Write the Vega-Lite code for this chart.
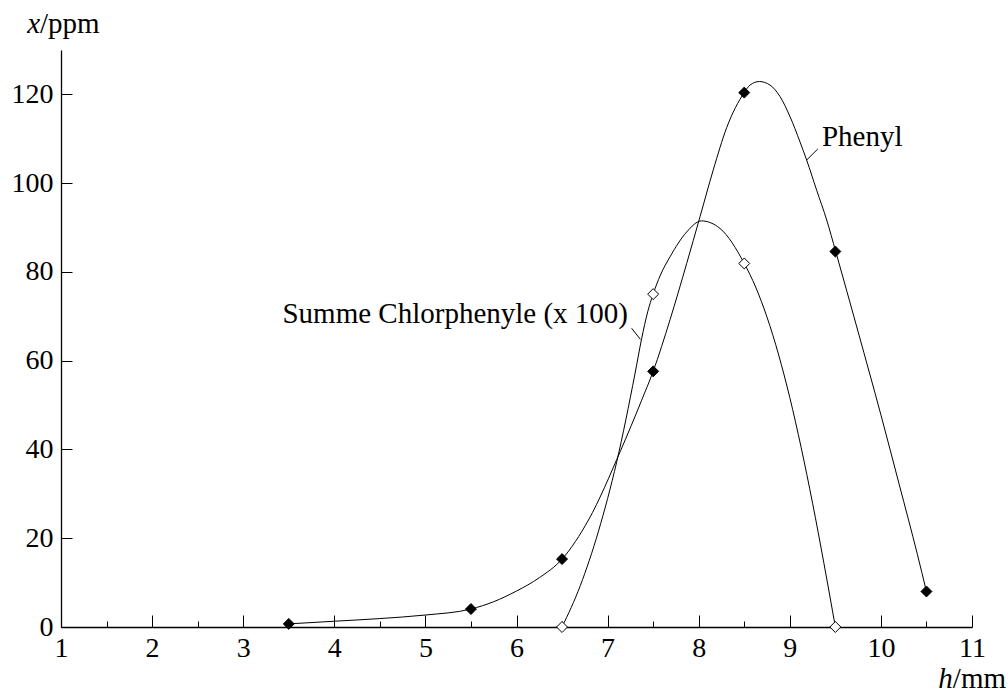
{
  "$schema": "https://vega.github.io/schema/vega-lite/v6.json",
  "width": 911,
  "height": 577,
  "autosize": {"type": "none"},
  "padding": {"left": 61, "top": 50, "right": 36, "bottom": 66},
  "background": "white",
  "config": {
    "view": {"stroke": null},
    "font": "Liberation Serif",
    "axis": {
      "grid": false,
      "domainColor": "black",
      "domainWidth": 1.3,
      "tickColor": "black",
      "tickWidth": 1,
      "labelColor": "black",
      "labelFont": "Liberation Serif",
      "labelFontSize": 28,
      "labelFlush": false,
      "labelOverlap": false,
      "title": null
    }
  },
  "datasets": {
    "curve": [
      {"series": "Phenyl", "h": 3.5, "ppm": 0.7},
      {"series": "Phenyl", "h": 4.0, "ppm": 1.3},
      {"series": "Phenyl", "h": 4.5, "ppm": 1.9},
      {"series": "Phenyl", "h": 5.0, "ppm": 2.7},
      {"series": "Phenyl", "h": 5.5, "ppm": 4.05},
      {"series": "Phenyl", "h": 5.75, "ppm": 5.7},
      {"series": "Phenyl", "h": 6.0, "ppm": 8.1},
      {"series": "Phenyl", "h": 6.25, "ppm": 11.1},
      {"series": "Phenyl", "h": 6.5, "ppm": 15.3},
      {"series": "Phenyl", "h": 6.79, "ppm": 24.1},
      {"series": "Phenyl", "h": 7.144, "ppm": 39.8},
      {"series": "Phenyl", "h": 7.374, "ppm": 51.1},
      {"series": "Phenyl", "h": 7.5, "ppm": 57.6},
      {"series": "Phenyl", "h": 7.685, "ppm": 69.2},
      {"series": "Phenyl", "h": 7.868, "ppm": 81.9},
      {"series": "Phenyl", "h": 8.014, "ppm": 92.4},
      {"series": "Phenyl", "h": 8.16, "ppm": 103.0},
      {"series": "Phenyl", "h": 8.307, "ppm": 112.5},
      {"series": "Phenyl", "h": 8.5, "ppm": 120.4},
      {"series": "Phenyl", "h": 8.563, "ppm": 122.1},
      {"series": "Phenyl", "h": 8.666, "ppm": 122.9},
      {"series": "Phenyl", "h": 8.783, "ppm": 122.1},
      {"series": "Phenyl", "h": 8.893, "ppm": 119.5},
      {"series": "Phenyl", "h": 9.002, "ppm": 115.0},
      {"series": "Phenyl", "h": 9.112, "ppm": 109.3},
      {"series": "Phenyl", "h": 9.185, "ppm": 105.2},
      {"series": "Phenyl", "h": 9.295, "ppm": 98.4},
      {"series": "Phenyl", "h": 9.405, "ppm": 91.7},
      {"series": "Phenyl", "h": 9.504, "ppm": 84.6},
      {"series": "Phenyl", "h": 9.75, "ppm": 66.5},
      {"series": "Phenyl", "h": 10.0, "ppm": 47.8},
      {"series": "Phenyl", "h": 10.2, "ppm": 32.2},
      {"series": "Phenyl", "h": 10.4, "ppm": 16.4},
      {"series": "Phenyl", "h": 10.5, "ppm": 8.0},
      {"series": "Chlor", "h": 6.5, "ppm": 0},
      {"series": "Chlor", "h": 6.7, "ppm": 9.3},
      {"series": "Chlor", "h": 6.9, "ppm": 21.6},
      {"series": "Chlor", "h": 7.1, "ppm": 37.2},
      {"series": "Chlor", "h": 7.3, "ppm": 57.0},
      {"series": "Chlor", "h": 7.374, "ppm": 65.0},
      {"series": "Chlor", "h": 7.44, "ppm": 71.0},
      {"series": "Chlor", "h": 7.5, "ppm": 75.0},
      {"series": "Chlor", "h": 7.58, "ppm": 79.3},
      {"series": "Chlor", "h": 7.685, "ppm": 83.4},
      {"series": "Chlor", "h": 7.868, "ppm": 89.0},
      {"series": "Chlor", "h": 8.03, "ppm": 91.5},
      {"series": "Chlor", "h": 8.234, "ppm": 89.8},
      {"series": "Chlor", "h": 8.5, "ppm": 81.9},
      {"series": "Chlor", "h": 8.625, "ppm": 76.6},
      {"series": "Chlor", "h": 8.75, "ppm": 69.8},
      {"series": "Chlor", "h": 8.875, "ppm": 61.5},
      {"series": "Chlor", "h": 9.0, "ppm": 51.7},
      {"series": "Chlor", "h": 9.125, "ppm": 40.4},
      {"series": "Chlor", "h": 9.25, "ppm": 27.9},
      {"series": "Chlor", "h": 9.375, "ppm": 14.3},
      {"series": "Chlor", "h": 9.5, "ppm": 0}
    ],
    "points": [
      {"series": "Phenyl", "h": 3.5, "ppm": 0.7},
      {"series": "Phenyl", "h": 5.5, "ppm": 4.05},
      {"series": "Phenyl", "h": 6.5, "ppm": 15.3},
      {"series": "Phenyl", "h": 7.5, "ppm": 57.6},
      {"series": "Phenyl", "h": 8.5, "ppm": 120.4},
      {"series": "Phenyl", "h": 9.5, "ppm": 84.6},
      {"series": "Phenyl", "h": 10.5, "ppm": 8.0},
      {"series": "Chlor", "h": 6.5, "ppm": 0},
      {"series": "Chlor", "h": 7.5, "ppm": 75.0},
      {"series": "Chlor", "h": 8.5, "ppm": 81.9},
      {"series": "Chlor", "h": 9.5, "ppm": 0}
    ]
  },
  "layer": [
    {
      "data": {"name": "curve"},
      "mark": {"type": "line", "interpolate": "monotone", "color": "black", "strokeWidth": 1},
      "encoding": {
        "x": {
          "field": "h", "type": "quantitative",
          "scale": {"domain": [1, 11], "nice": false, "zero": false},
          "axis": {
            "values": [1, 1.5, 2, 2.5, 3, 3.5, 4, 4.5, 5, 5.5, 6, 6.5, 7, 7.5, 8, 8.5, 9, 9.5, 10, 10.5, 11],
            "labelExpr": "datum.value % 1 === 0 ? format(datum.value, 'd') : ''",
            "tickSize": {"condition": {"test": "datum.value % 1 !== 0", "value": -6}, "value": -12},
            "labelPadding": 19
          }
        },
        "y": {
          "field": "ppm", "type": "quantitative",
          "scale": {"domain": [0, 130], "nice": false, "zero": true},
          "axis": {
            "values": [0, 20, 40, 60, 80, 100, 120],
            "tickSize": -11,
            "labelPadding": 19
          }
        },
        "detail": {"field": "series"}
      }
    },
    {
      "data": {"name": "points"},
      "mark": {"type": "point", "shape": "diamond", "size": 120, "stroke": "black", "strokeWidth": 1, "opacity": 1, "filled": false},
      "encoding": {
        "x": {"field": "h", "type": "quantitative"},
        "y": {"field": "ppm", "type": "quantitative"},
        "fill": {"field": "series", "type": "nominal", "scale": {"domain": ["Phenyl", "Chlor"], "range": ["black", "white"]}, "legend": null}
      }
    },
    {
      "data": {"values": [{}]},
      "mark": {"type": "text", "text": "Phenyl", "align": "left", "baseline": "alphabetic", "fontSize": 29, "font": "Liberation Serif", "color": "black"},
      "encoding": {"x": {"datum": 9.353}, "y": {"datum": 108.4}}
    },
    {
      "data": {"values": [{}]},
      "mark": {"type": "text", "text": "Summe Chlorphenyle (x 100)", "align": "right", "baseline": "alphabetic", "fontSize": 29, "font": "Liberation Serif", "color": "black"},
      "encoding": {"x": {"datum": 7.224}, "y": {"datum": 68.5}}
    },
    {
      "data": {"values": [{}]},
      "mark": {"type": "rule", "color": "black", "strokeWidth": 1},
      "encoding": {"x": {"datum": 9.307}, "y": {"datum": 107.7}, "x2": {"datum": 9.185}, "y2": {"datum": 105.2}}
    },
    {
      "data": {"values": [{}]},
      "mark": {"type": "rule", "color": "black", "strokeWidth": 1},
      "encoding": {"x": {"datum": 7.264}, "y": {"datum": 67.3}, "x2": {"datum": 7.36}, "y2": {"datum": 64.8}}
    },
    {
      "data": {"values": [{}]},
      "mark": {"type": "text", "text": "x", "align": "right", "baseline": "alphabetic", "fontSize": 29, "font": "Liberation Serif", "fontStyle": "italic", "color": "black"},
      "encoding": {"x": {"datum": 0.77}, "y": {"datum": 133.8}}
    },
    {
      "data": {"values": [{}]},
      "mark": {"type": "text", "text": "/ppm", "align": "left", "baseline": "alphabetic", "fontSize": 29, "font": "Liberation Serif", "color": "black"},
      "encoding": {"x": {"datum": 0.77}, "y": {"datum": 133.8}}
    },
    {
      "data": {"values": [{}]},
      "mark": {"type": "text", "text": "h", "align": "right", "baseline": "alphabetic", "fontSize": 29, "font": "Liberation Serif", "fontStyle": "italic", "color": "black"},
      "encoding": {"x": {"datum": 10.79}, "y": {"datum": -13.8}}
    },
    {
      "data": {"values": [{}]},
      "mark": {"type": "text", "text": "/mm", "align": "left", "baseline": "alphabetic", "fontSize": 29, "font": "Liberation Serif", "color": "black"},
      "encoding": {"x": {"datum": 10.79}, "y": {"datum": -13.8}}
    }
  ]
}
